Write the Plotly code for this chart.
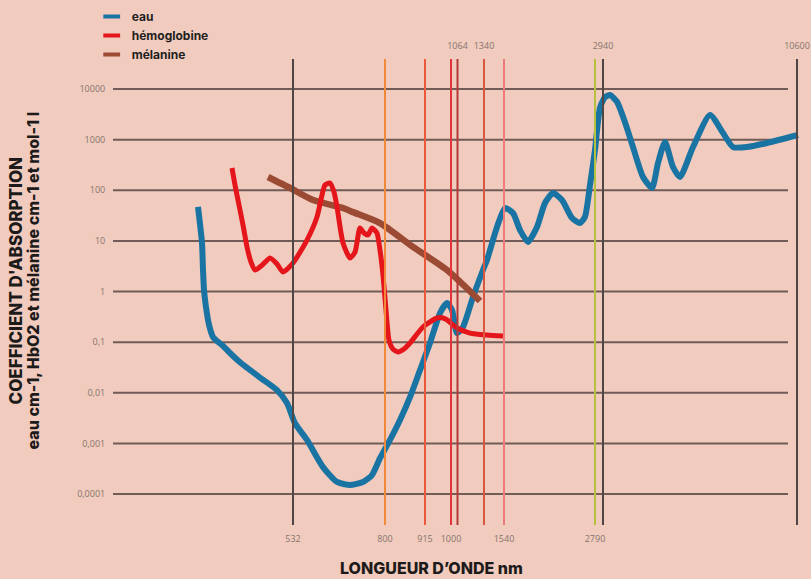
import plotly.graph_objects as go

# ---------------- DATA ----------------
# Schematic (non-uniform) wavelength axis: position units along the drawing
eau_pos = [198, 202, 203, 204, 206, 209, 213, 217, 222, 230, 240, 260, 277, 287, 295, 307, 323, 337, 350,
           363, 372, 380, 390, 400, 410, 420, 430, 440, 447, 452, 457, 463, 473, 483, 487, 497, 505, 513,
           520, 528, 537, 545, 553, 562, 572, 580, 585, 590, 595, 600, 605, 610, 617, 625, 633, 643, 652,
           658, 665, 673, 680, 693, 710, 723, 733, 747, 767, 798]
eau_val = [47, 9.1, 2.7, 1.07, 0.49, 0.22, 0.126, 0.105, 0.088, 0.061, 0.040, 0.020, 0.0113, 0.0063,
           0.0025, 0.00117, 0.00034, 0.000173, 0.000151, 0.000173, 0.000237, 0.00051, 0.00117, 0.0029,
           0.0082, 0.028, 0.096, 0.376, 0.59, 0.43, 0.151, 0.199, 0.78, 2.66, 4.2, 18.8, 44.6, 35.5, 16.4,
           9.5, 18.8, 56, 88, 64, 28.3, 22.5, 30, 127, 630, 4300, 6900, 7600, 5600, 2200, 714, 183, 111,
           345, 898, 288, 183, 714, 3060, 1350, 714, 714, 858, 1234]

hemo_pos = [232, 235, 238, 243, 247, 251, 255, 262, 270, 277, 283, 293, 307, 317, 322, 325, 330, 334, 337,
            343, 350, 355, 360, 364, 368, 372, 377, 380, 383, 386, 389, 393, 398, 404, 410, 423, 437, 443,
            447, 457, 470, 487, 503]
hemo_val = [275, 127, 64, 20.6, 7.6, 3.8, 2.66, 3.3, 4.6, 3.5, 2.43, 3.66, 10.4, 29.6, 80, 127, 139, 92,
            47, 9.1, 4.6, 6.0, 18, 14.3, 13.1, 18, 14.3, 6.6, 2.1, 0.43, 0.110, 0.073, 0.064, 0.073, 0.096,
            0.199, 0.30, 0.30, 0.274, 0.19, 0.151, 0.138, 0.132]

mel_pos = [268, 290, 313, 343, 353, 380, 413, 447, 480]
mel_val = [183, 111, 64, 44.6, 37, 22.5, 7.6, 2.66, 0.65]

line_wavelengths = [532, 800, 915, 1000, 1064, 1340, 1540, 2790, 2940, 10600]
bottom_labels = ["532", "800", "915", "1000", "", "", "1540", "2790", "", ""]
top_labels = ["", "", "", "", "1064", "1340", "", "", "2940", "10600"]

y_tick_values = [1e-4, 1e-3, 1e-2, 1e-1, 1, 10, 100, 1000, 10000]
y_tick_labels = ["0,0001", "0,001", "0,01", "0,1", "1", "10", "100", "1000", "10000"]

series_names = ["eau", "hémoglobine", "mélanine"]

# ---------------- LAYOUT / STYLE ----------------
line_pos = [293, 385, 425, 451, 457.5, 484, 504, 595, 603, 797]
line_colors = ["#4f4646", "#f08a3a", "#ea5a3a", "#e2323a", "#b23a36", "#d9573f", "#f07a7a",
               "#b6c140", "#4f4646", "#4f4646"]
series_colors = ["#1a74a3", "#e5151c", "#9b4a34"]
x_range = [113, 800]
y_range = [-4.612, 4.593]
grid_x = [113, 788]
bg = "#f1cbbd"
tick_font = dict(family="Open Sans", size=9, color="#85756f")
title_font = dict(family="Inter", color="#1d1a1a", weight=800)

fig = go.Figure()

# horizontal grid lines
gx, gy = [], []
for v in y_tick_values:
    gx += [grid_x[0], grid_x[1], None]
    gy += [v, v, None]
fig.add_trace(go.Scatter(x=gx, y=gy, mode="lines", line=dict(color="rgba(80,62,60,0.8)", width=2),
                         hoverinfo="skip", showlegend=False))

# vertical wavelength lines (on the top-axis twin, same range)
ylo, yhi = 10 ** y_range[0], 10 ** y_range[1]
for p, c in zip(line_pos, line_colors):
    fig.add_trace(go.Scatter(x=[p, p], y=[ylo, yhi], mode="lines", xaxis="x2",
                             line=dict(color=c, width=2), hoverinfo="skip", showlegend=False))

# curves
curves = [(eau_pos, eau_val, 6), (mel_pos, mel_val, 6.5), (hemo_pos, hemo_val, 5)]
order = [0, 2, 1]
for (xs, ys, w), idx in zip(curves, order):
    fig.add_trace(go.Scatter(x=xs, y=ys, mode="lines", name=series_names[idx],
                             line=dict(color=series_colors[idx], width=w, shape="spline", smoothing=0.6),
                             showlegend=False))

# legend entries (short swatches)
for name, col in zip(series_names, series_colors):
    fig.add_trace(go.Scatter(x=[None], y=[None], mode="markers", name=name,
                             marker=dict(symbol="line-ew", size=12, line=dict(color=col, width=4))))

fig.update_layout(
    width=811, height=579,
    margin=dict(l=113, r=11, t=59, b=54, autoexpand=False),
    paper_bgcolor=bg, plot_bgcolor=bg,
    showlegend=True,
    legend=dict(x=-0.031, y=1.1223, xanchor="left", yanchor="top", bgcolor="rgba(0,0,0,0)",
                font=dict(family="Inter", size=12, color="#231f20", weight="bold"),
                tracegroupgap=0, itemwidth=30),
    xaxis=dict(range=x_range, showgrid=False, zeroline=False, showline=False,
               tickvals=line_pos, ticktext=bottom_labels, ticks="outside", ticklen=5,
               tickcolor="rgba(0,0,0,0)", tickfont=tick_font),
    xaxis2=dict(range=x_range, overlaying="x", side="top", showgrid=False, zeroline=False,
                showline=False, tickvals=line_pos, ticktext=top_labels, ticks="outside", ticklen=5,
                tickcolor="rgba(0,0,0,0)", tickfont=tick_font),
    yaxis=dict(type="log", range=y_range, showgrid=False, zeroline=False, showline=False,
               tickvals=y_tick_values, ticktext=y_tick_labels, ticks="outside", ticklen=5,
               tickcolor="rgba(0,0,0,0)", tickfont=tick_font),
    annotations=[
        dict(text="LONGUEUR D\u2019ONDE nm", xref="paper", yref="paper", x=0.4629, y=-0.0923,
             xanchor="center", yanchor="middle", showarrow=False, font=dict(size=16, **title_font)),
        dict(text="COEFFICIENT D'ABSORPTION", xref="paper", yref="paper", x=-0.1405, y=0.5258,
             xanchor="center", yanchor="middle", textangle=-90, showarrow=False,
             font=dict(size=17, **title_font)),
        dict(text="eau cm-1, HbO2 et mélanine cm-1 et mol-1 l", xref="paper", yref="paper",
             x=-0.1172, y=0.5258, xanchor="center", yanchor="middle", textangle=-90, showarrow=False,
             font=dict(size=16, **title_font)),
    ],
)

fig.write_html("out.html", config={"displayModeBar": False},
               post_script="document.body.style.margin='0';document.body.style.overflow='hidden';")
